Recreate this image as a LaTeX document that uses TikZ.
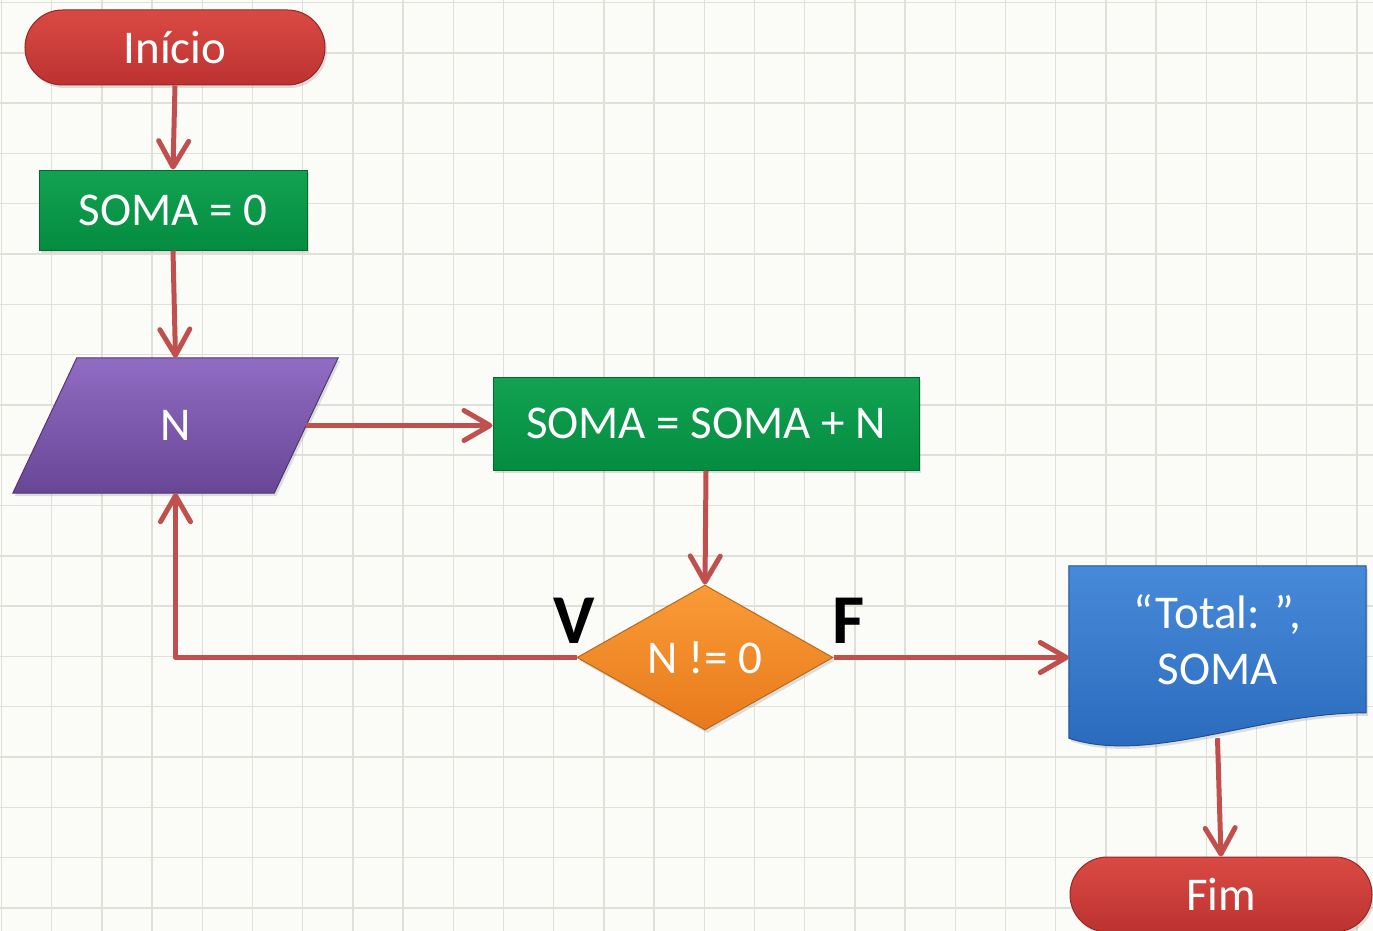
\documentclass[tikz,border=0pt]{standalone}
\usepackage{fontspec}
\setmainfont{Carlito}
\usetikzlibrary{shapes.geometric,shapes.misc,arrows.meta,shadows,calc}
\definecolor{bg}{RGB}{251,251,247}
\definecolor{gridc}{RGB}{224,224,218}
\definecolor{arrowred}{RGB}{192,80,77}
\definecolor{redtop}{RGB}{218,74,68}
\definecolor{redbot}{RGB}{188,50,48}
\definecolor{rededge}{RGB}{150,40,38}
\definecolor{greentop}{RGB}{18,162,82}
\definecolor{greenbot}{RGB}{4,140,64}
\definecolor{greenedge}{RGB}{0,105,48}
\definecolor{purtop}{RGB}{145,108,195}
\definecolor{purbot}{RGB}{104,70,150}
\definecolor{puredge}{RGB}{80,55,115}
\definecolor{ortop}{RGB}{250,155,55}
\definecolor{orbot}{RGB}{232,122,28}
\definecolor{oredge}{RGB}{185,105,30}
\definecolor{bltop}{RGB}{72,138,218}
\definecolor{blbot}{RGB}{40,104,186}
\definecolor{bledge}{RGB}{30,80,150}
\tikzset{
  shade/.style={drop shadow={shadow xshift=2pt,shadow yshift=-3pt,opacity=0.25}},
  txt/.style={text=white,font=\fontsize{47}{56}\selectfont},
  term/.style={rounded rectangle,rounded rectangle arc length=180,inner sep=0pt,
    top color=redtop,bottom color=redbot,draw=rededge,line width=1pt,shade,txt},
  procbox/.style={rectangle,inner sep=0pt,top color=greentop,bottom color=greenbot,
    draw=greenedge,line width=1pt,shade,txt},
  iofill/.style={top color=purtop,bottom color=purbot,draw=puredge,line width=1pt,shade},
  decbox/.style={diamond,aspect=1.77,inner sep=0pt,top color=ortop,bottom color=orbot,
    draw=oredge,line width=1pt,shade,txt},
  lab/.style={text=black,font=\fontsize{70}{70}\selectfont\bfseries,inner sep=0pt},
  flow/.style={draw=arrowred,line width=5pt,line join=round,
    -{Straight Barb[length=26pt,width=30pt,round]}}
}
\begin{document}
\begin{tikzpicture}[x=1pt,y=-1pt]
\useasboundingbox (0,0) rectangle (1373,931);
\fill[bg] (0,0) rectangle (1373,931);
\foreach \i in {0,...,27}{\draw[gridc,line width=1.5pt] ({1.5+50.2*\i},0) -- ({1.5+50.2*\i},931);}
\foreach \j in {0,...,18}{\draw[gridc,line width=1.5pt] (0,{2.5+50.3*\j}) -- (1373,{2.5+50.3*\j});}

\node[term,minimum width=300pt,minimum height=75pt] (inicio) at (175,47.5) {Início};
\node[procbox,minimum width=268pt,minimum height=80pt] (soma0) at (173,210) {SOMA = 0};
% input parallelogram
\node[rectangle,inner sep=0pt,minimum width=261pt,minimum height=135pt] (n) at (175.5,425.5) {};
\path[iofill] ($(n.south west)+(-32,0)$) -- ($(n.north west)+(32,0)$)
  -- ($(n.north east)+(32,0)$) -- ($(n.south east)+(-32,0)$) -- cycle;
\node[txt] (ntext) at (n.center) {N};
\node[procbox,minimum width=426pt,minimum height=93pt] (somaN) at (706,423.5) {SOMA = SOMA + N};
\node[decbox,minimum width=256pt,minimum height=145pt] (cond) at (705,657.5) {N != 0};
\node[rectangle,minimum width=297pt,minimum height=182pt,inner sep=0pt] (doc) at (1217.5,657) {};
\path[draw=bledge,line width=1pt,top color=bltop,bottom color=blbot,shade]
  (doc.north west) -- (doc.north east) -- ($(doc.north east)+(0,147)$)
  .. controls ($(doc.south west)+(191,-36)$) and ($(doc.south west)+(81,17)$) ..
  ($(doc.south west)+(0,-10)$) -- cycle;
\node[txt,align=center] (doctext) at (1217.5,640) {“Total: ”,\\SOMA};
\node[term,minimum width=302pt,minimum height=75pt] (fim) at (1221,894.5) {Fim};

\node[lab] (vlab) at (574,621) {V};
\node[lab] (flab) at (849,621) {F};

\draw[flow] (inicio.south) -- (soma0.north);
\draw[flow] (soma0.south) -- (n.north);
\draw[flow] (n.east) -- (n.east -| somaN.west);
\draw[flow] (somaN.south) -- (cond.north);
\draw[flow] (cond.west) -| (n.south);
\draw[flow] (cond.east) -- (cond.east -| doc.west);
\draw[flow] ($(doc.south)+(0,-10)$) -- (fim.north);
\end{tikzpicture}
\end{document}
